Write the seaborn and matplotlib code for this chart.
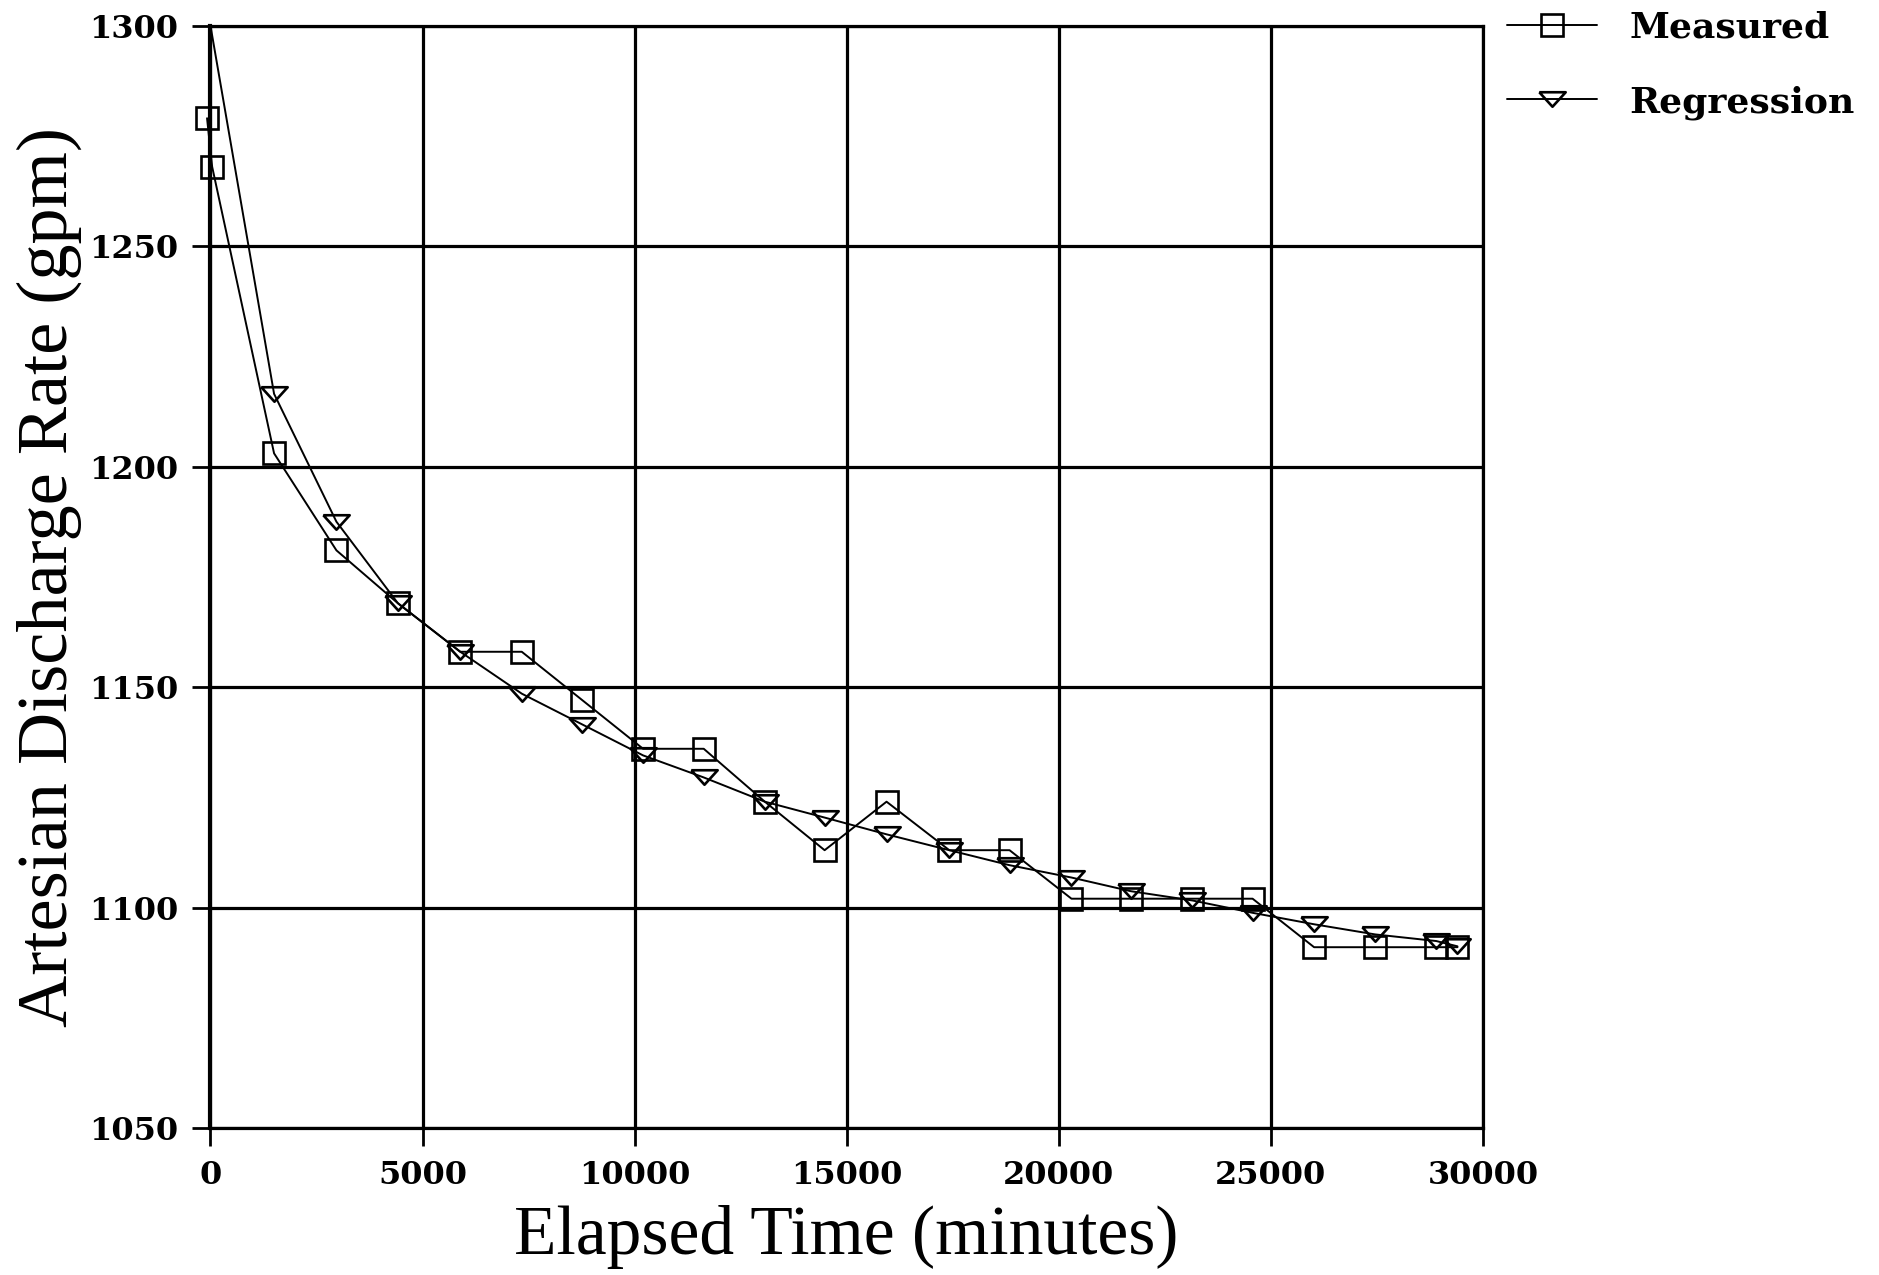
import matplotlib
matplotlib.use("Agg")
import matplotlib.pyplot as plt
import seaborn as sns
import pandas as pd
from matplotlib.lines import Line2D

# ---- data ----
time_measured = [-80, 40, 1500, 2970, 4420, 5890, 7340, 8770, 10200, 11630, 13070,
                 14480, 15940, 17420, 18840, 20300, 21700, 23150, 24570, 26020,
                 27460, 28900, 29400]
rate_measured = [1279, 1268, 1203, 1181, 1169, 1158, 1158, 1147, 1136, 1136, 1124,
                 1113, 1124, 1113, 1113, 1102, 1102, 1102, 1102, 1091,
                 1091, 1091, 1091]

time_regression = [0, 1500, 2970, 4420, 5890, 7340, 8770, 10200, 11630, 13070,
                   14480, 15940, 17420, 18840, 20300, 21700, 23150, 24570, 26020,
                   27460, 28900, 29400]
rate_regression = [1300, 1216.5, 1187.5, 1169, 1158, 1148.5, 1141.5, 1134.5, 1129.5,
                   1124, 1120.4, 1116.6, 1113, 1109.6, 1106.8, 1103.7, 1101.6,
                   1098.8, 1096.2, 1093.9, 1092.4, 1091.2]

x_ticks = [0, 5000, 10000, 15000, 20000, 25000, 30000]
y_ticks = [1050, 1100, 1150, 1200, 1250, 1300]
series_labels = ["Measured", "Regression"]
x_title = "Elapsed Time (minutes)"
y_title = "Artesian Discharge Rate (gpm)"

df_m = pd.DataFrame({"t": time_measured, "q": rate_measured})
df_r = pd.DataFrame({"t": time_regression, "q": rate_regression})

sns.set_style("white")
plt.rcParams["font.family"] = ["DejaVu Serif"]
plt.rcParams["text.color"] = "black"
plt.rcParams["axes.labelcolor"] = "black"
plt.rcParams["xtick.color"] = "black"
plt.rcParams["ytick.color"] = "black"

fig = plt.figure(figsize=(18.79, 12.75), dpi=100)
ax = fig.add_axes([0.112, 0.1153, 0.6772, 0.8646])

tri = [(-1, 0.55), (1, 0.55), (0, -0.55), (-1, 0.55)]

sns.lineplot(data=df_m, x="t", y="q", ax=ax, sort=False, estimator=None,
             color="black", lw=1.4, marker="s", markersize=16,
             markerfacecolor="none", markeredgecolor="black", markeredgewidth=1.9,
             clip_on=False, zorder=3)
sns.lineplot(data=df_r, x="t", y="q", ax=ax, sort=False, estimator=None,
             color="black", lw=1.4, marker=tri, markersize=19,
             markerfacecolor="none", markeredgecolor="black", markeredgewidth=1.9,
             markevery=list(range(1, len(time_regression))), zorder=3)

ax.set_xlim(0, 30000)
ax.set_ylim(1050, 1300)
ax.set_xticks(x_ticks)
ax.set_yticks(y_ticks)
ax.set_xticklabels([str(v) for v in x_ticks])
ax.set_yticklabels([str(v) for v in y_ticks])
ax.grid(True, color="black", lw=2.3)
ax.set_axisbelow(True)
for s in ax.spines.values():
    s.set_color("black")
    s.set_linewidth(2.3)
ax.spines["left"].set_linewidth(3.0)
ax.tick_params(axis="both", direction="out", length=13, width=2.0, color="black",
               pad=10, labelsize=23, bottom=True, left=True, labelcolor="black")
for lab in ax.get_xticklabels() + ax.get_yticklabels():
    lab.set_fontweight("bold")

ax.set_xlabel(x_title, fontsize=50, family="Liberation Serif", color="black")
ax.set_ylabel(y_title, fontsize=52, family="Liberation Serif", color="black")
ax.xaxis.set_label_coords(0.5, -0.070)
ax.yaxis.set_label_coords(-0.101, 0.5)

handles = [
    Line2D([], [], color="black", lw=1.4, marker="s", markersize=16,
           markerfacecolor="none", markeredgewidth=1.9),
    Line2D([], [], color="black", lw=1.4, marker=tri, markersize=19,
           markerfacecolor="none", markeredgewidth=1.9),
]
leg = ax.legend(handles, series_labels, loc="upper left",
                bbox_to_anchor=(0.802, 0.9914), bbox_transform=fig.transFigure,
                frameon=False, borderpad=0, borderaxespad=0,
                handlelength=2.5, handletextpad=0.89, labelspacing=1.11,
                prop={"family": "DejaVu Serif", "weight": "bold", "size": 26})
for t in leg.get_texts():
    t.set_color("black")

fig.savefig("out.png", dpi=100, facecolor="white")
